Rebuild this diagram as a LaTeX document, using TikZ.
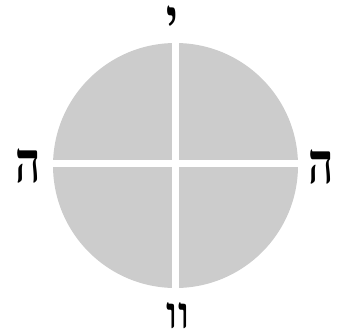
\documentclass[tikz,border=0pt]{standalone}
\usepackage{fontspec}
\newfontfamily\hebfont[Script=Hebrew]{Liberation Serif}
\TeXXeTstate=1

\tikzset{
  quarter/.style={fill=gray!40},
  letter/.style={inner sep=0pt,anchor=base,font=\hebfont\bfseries\fontsize{44}{44}\selectfont}
}
\newcommand{\tallletter}[2][1.3]{\scalebox{1}[#1]{\beginR #2\endR}}

\begin{document}
\begin{tikzpicture}[x=1pt,y=-1pt]
  \useasboundingbox (0,0) rectangle (339,329);
  \coordinate (O) at (175.5,165.5);

  \begin{scope}
    \clip (O) circle (122.5);
    \fill[quarter] (O) ++(-3.5,-5.5) rectangle ++(-130,-130);
    \fill[quarter] (O) ++(3.5,-5.5) rectangle ++(130,-130);
    \fill[quarter] (O) ++(-3.5,1.5) rectangle ++(-130,130);
    \fill[quarter] (O) ++(3.5,1.5) rectangle ++(130,130);
  \end{scope}

  \node[letter] (yod) at (172,40) {\tallletter{י}};
  \node[letter] (heL) at (28,182) {\tallletter{ה}};
  \node[letter] (heR) at (321,183) {\tallletter{ה}};
  \node[letter] (vav) at (178,328) {\tallletter[1]{וו}};
\end{tikzpicture}
\end{document}
